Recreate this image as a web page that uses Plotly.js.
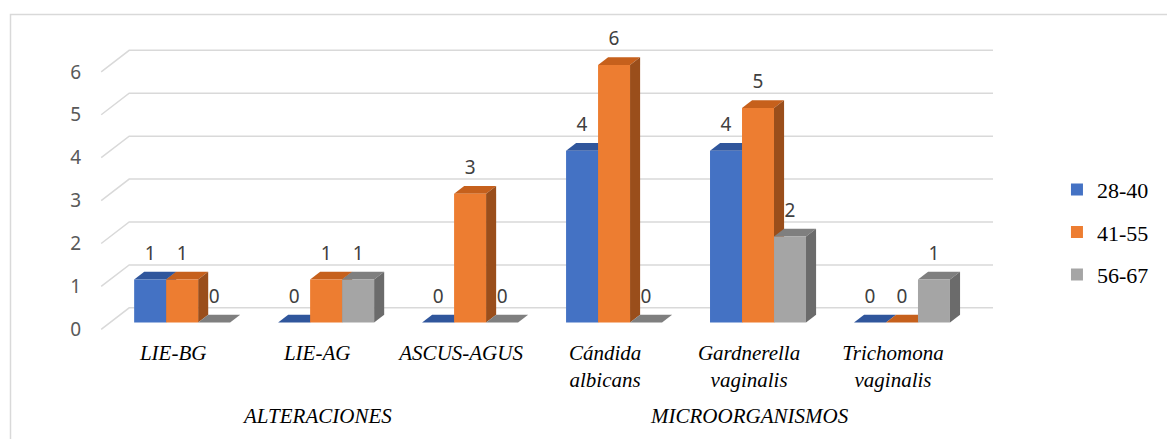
<!DOCTYPE html>
<html>
<head>
<meta charset="utf-8">
<script src="https://cdn.plot.ly/plotly-3.0.1.min.js"></script>
<style>html,body{margin:0;padding:0;background:#fff;}#chart{width:1167px;height:439px;}</style>
</head>
<body>
<div id="chart"></div>
<script>
// ---- data ----
const categories = ['LIE-BG', 'LIE-AG', 'ASCUS-AGUS', 'Cándida<br>albicans', 'Gardnerella<br>vaginalis', 'Trichomona<br>vaginalis'];
const groupLabels = ['ALTERACIONES', 'MICROORGANISMOS'];
const groupCenters = [1, 4];
const seriesNames = ['28-40', '41-55', '56-67'];
const s28_40 = [1, 0, 0, 4, 4, 0];
const s41_55 = [1, 1, 3, 6, 5, 0];
const s56_67 = [0, 1, 0, 0, 2, 1];
const yTicks = [0, 1, 2, 3, 4, 5, 6];

// ---- styling ----
const seriesValues = [s28_40, s41_55, s56_67];
const frontColors = ['#4472C4', '#ED7D31', '#A5A5A5'];
const topColors = ['#30569C', '#C6601C', '#7F7F7F'];
const sideColors = ['#2C4E8C', '#9A4E1B', '#6B6B6B'];
const SERIF = 'Times New Roman, Liberation Serif, serif';
const SANS = 'Noto Sans, sans-serif';

const PXU = 144, PYU = 42.9;          // pixels per unit
const Dx = 28 / PXU, Dy = 21.5 / PYU; // full depth offset in data units
const d0 = 0.32, d1 = 0.68;           // bar front/back depth
const bw = 32 / PXU;                  // bar width
const labelGap = 24.5 / PYU;

const xs = categories.map((_, i) => i);
function P(x, y, d) { return [x + d * Dx, y + d * Dy]; }
function path(pts) { return 'M' + pts.map(p => p[0].toFixed(4) + ',' + p[1].toFixed(4)).join('L') + 'Z'; }

const shapes = [];
// chart frame
shapes.push({type: 'rect', xref: 'paper', yref: 'paper', x0: (10.5 - 94) / 907, x1: 1.25, y0: (338 - 14.5) / 308, y1: -0.6,
  line: {color: '#D9D9D9', width: 1.5}, fillcolor: 'rgba(0,0,0,0)', layer: 'below'});
// back wall gridlines and left diagonals
yTicks.forEach(v => {
  const a = P(-0.5, v, 0), b = P(-0.5, v, 1), c = P(categories.length - 0.5, v, 1);
  shapes.push({type: 'path', xref: 'x', yref: 'y', path: 'M' + a.join(',') + 'L' + b.join(',') + 'L' + c.join(','),
    line: {color: '#D9D9D9', width: 1.5}, layer: 'below'});
});

const traces = [];
const textTraces = [];
seriesValues.forEach((vals, s) => {
  const bx = [], lx = [], ly = [];
  vals.forEach((v, i) => {
    const xl = xs[i] - 1.5 * bw + s * bw, xr = xl + bw;
    bx.push((xl + xr) / 2 + d0 * Dx);
    lx.push((xl + xr) / 2 + d0 * Dx);
    ly.push(v + d0 * Dy + labelGap);
    // top face
    shapes.push({type: 'path', xref: 'x', yref: 'y', layer: 'below', line: {width: 0}, fillcolor: topColors[s],
      path: path([P(xl, v, d0), P(xr, v, d0), P(xr, v, d1), P(xl, v, d1)])});
    // right side face
    if (v > 0) {
      shapes.push({type: 'path', xref: 'x', yref: 'y', layer: 'below', line: {width: 0}, fillcolor: sideColors[s],
        path: path([P(xr, 0, d0), P(xr, v, d0), P(xr, v, d1), P(xr, 0, d1)])});
    }
  });
  traces.push({type: 'bar', name: seriesNames[s], x: bx, y: vals, base: vals.map(() => d0 * Dy), width: bw,
    marker: {color: frontColors[s], line: {width: 0}}, legendgroup: 'g' + s, hoverinfo: 'skip'});
  textTraces.push({type: 'scatter', mode: 'text', x: lx, y: ly, text: vals.map(String), textposition: 'middle center',
    textfont: {family: SANS, size: 19, color: '#404040'}, showlegend: false, hoverinfo: 'skip', cliponaxis: false});
});

const annotations = groupLabels.map((t, k) => ({
  text: t, xref: 'x', yref: 'paper', x: groupCenters[k], y: (338 - 416) / 308, xanchor: 'center', yanchor: 'middle',
  showarrow: false, font: {family: SERIF, size: 21, style: 'italic', color: '#000'}
}));

const layout = {
  width: 1167, height: 439, autosize: false,
  margin: {l: 94, r: 166, t: 30, b: 101, pad: 0},
  paper_bgcolor: '#fff', plot_bgcolor: 'rgba(0,0,0,0)',
  barmode: 'overlay',
  showlegend: true,
  legend: {x: 1.0617, xanchor: 'left', y: 0.55, yanchor: 'top', traceorder: 'grouped', tracegroupgap: 11,
    font: {family: SERIF, size: 22, color: '#000'}, bgcolor: 'rgba(0,0,0,0)'},
  xaxis: {range: [-0.55, 5.75], tickmode: 'array', tickvals: xs, ticktext: categories, showgrid: false, zeroline: false,
    showline: false, ticks: '', tickfont: {family: SERIF, size: 21, style: 'italic', color: '#000'}},
  yaxis: {range: [-0.203, 6.976], tickmode: 'array', tickvals: yTicks, ticktext: yTicks.map(String), showgrid: false,
    zeroline: false, showline: false, ticks: '', ticklabelstandoff: 12,
    tickfont: {family: SANS, size: 19, color: '#595959'}},
  shapes: shapes,
  annotations: annotations
};

Plotly.newPlot('chart', traces.concat(textTraces), layout, {displayModeBar: false, staticPlot: true});
</script>
</body>
</html>
